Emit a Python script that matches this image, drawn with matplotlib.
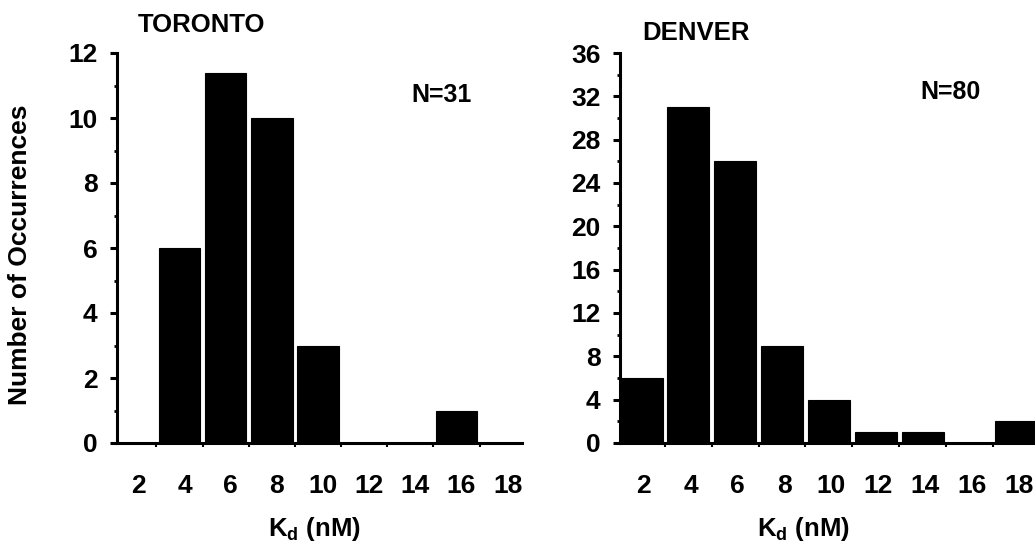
import matplotlib
matplotlib.use("Agg")
import matplotlib.pyplot as plt
from matplotlib.ticker import MultipleLocator
import numpy as np

plt.rcParams['font.family'] = ['Liberation Sans', 'DejaVu Sans']
plt.rcParams['font.weight'] = 'bold'
plt.rcParams['mathtext.fontset'] = 'custom'
plt.rcParams['mathtext.rm'] = 'Liberation Sans:bold'
plt.rcParams['mathtext.bf'] = 'Liberation Sans:bold'
plt.rcParams['mathtext.it'] = 'Liberation Sans:bold'

# Data
kd_bins = [2, 4, 6, 8, 10, 12, 14, 16, 18]
toronto_counts = [0, 6, 11.4, 10, 3, 0, 0, 1, 0]
denver_counts = [6, 31, 26, 9, 4, 1, 1, 0, 2]
tick_labels = ['2', '4', '6', '8', '10', '12', '14', '16', '18']
titles = ['TORONTO', 'DENVER']
n_labels = ['N=31', 'N=80']

W, H = 1035, 543
fig = plt.figure(figsize=(W / 100, H / 100), dpi=100)

def box(x0, x1, y0, y1):
    return [x0 / W, 1 - y1 / H, (x1 - x0) / W, (y1 - y0) / H]

ax1 = fig.add_axes(box(117, 522, 53, 443))
ax2 = fig.add_axes(box(620, 1035, 53, 443))

cfg = [
    (ax1, toronto_counts, (1.29, 18.84), 12, 2, 0.22),
    (ax2, denver_counts, (1.08, 18.8), 36, 4, 0.1),
]

for ax, counts, xl, ymax, step, off in cfg:
    ax.bar(kd_bins, counts, width=1.8, color='black', edgecolor='black', linewidth=0.8)
    ax.set_xlim(*xl)
    ax.set_ylim(0, ymax)
    ax.spines['top'].set_visible(False)
    ax.spines['right'].set_visible(False)
    for s in ('left', 'bottom'):
        ax.spines[s].set_linewidth(2.2)
    ax.yaxis.set_major_locator(MultipleLocator(step))
    ax.yaxis.set_minor_locator(MultipleLocator(step / 2))
    ax.tick_params(axis='y', which='major', direction='out', length=5, width=2.2,
                   labelsize=19, pad=9)
    ax.tick_params(axis='y', which='minor', direction='out', length=2, width=2)
    ax.set_xticks(np.array(kd_bins) + off)
    ax.set_xticklabels(tick_labels)
    ax.set_xticks(np.arange(3, 19, 2), minor=True)
    ax.tick_params(axis='x', which='major', length=0, labelsize=19, pad=22)
    ax.tick_params(axis='x', which='minor', direction='out', length=3, width=1.5)
    for lab in ax.get_xticklabels() + ax.get_yticklabels():
        lab.set_fontweight('bold')

fig.text(138 / W, 1 - 32 / H, titles[0], fontsize=18.5, fontweight='bold', ha='left', va='baseline')
fig.text(642 / W, 1 - 40 / H, titles[1], fontsize=18.5, fontweight='bold', ha='left', va='baseline')
fig.text(442 / W, 1 - 95 / H, n_labels[0], fontsize=18, fontweight='bold', ha='center', va='center')
fig.text(951 / W, 1 - 92 / H, n_labels[1], fontsize=18, fontweight='bold', ha='center', va='center')

fig.text(314 / W, 1 - 536 / H, r'K$_{\mathbf{d}}$ (nM)', fontsize=18.5, fontweight='bold',
         ha='center', va='baseline')
fig.text(803 / W, 1 - 536 / H, r'K$_{\mathbf{d}}$ (nM)', fontsize=18.5, fontweight='bold',
         ha='center', va='baseline')
fig.text(20 / W, 1 - 255 / H, 'Number of Occurrences', fontsize=19, fontweight='bold',
         rotation=90, ha='center', va='center')

fig.savefig('out.png', dpi=100)
